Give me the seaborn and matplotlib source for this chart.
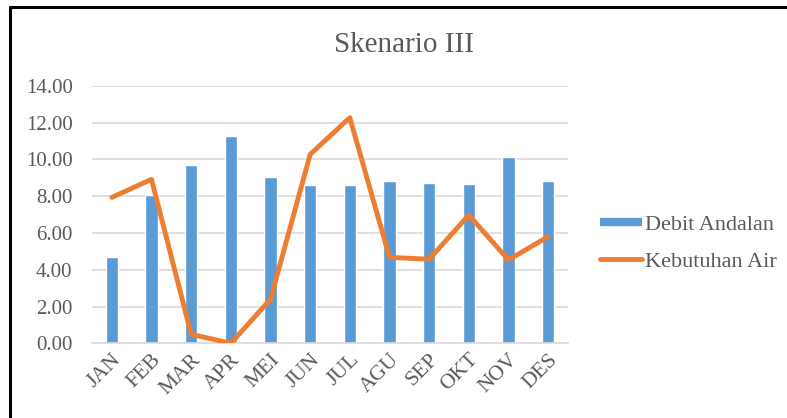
import numpy as np
import pandas as pd
import matplotlib
matplotlib.use("Agg")
import matplotlib.pyplot as plt
from matplotlib.lines import Line2D
import seaborn as sns

months = ["JAN", "FEB", "MAR", "APR", "MEI", "JUN", "JUL", "AGU", "SEP", "OKT", "NOV", "DES"]
debit_andalan = [4.71, 8.06, 9.69, 11.27, 9.02, 8.59, 8.59, 8.80, 8.73, 8.66, 10.14, 8.80]
kebutuhan_air = [7.93, 8.91, 0.49, 0.00, 2.39, 10.27, 12.26, 4.67, 4.57, 6.97, 4.53, 5.80]
yticks = [0, 2, 4, 6, 8, 10, 12, 14]

df = pd.DataFrame({"Bulan": months, "Debit Andalan": debit_andalan, "Kebutuhan Air": kebutuhan_air})

sns.set_theme(style="white")
plt.rcParams["font.family"] = ["Liberation Serif", "DejaVu Serif"]

BLUE = "#5B9BD5"
ORANGE = "#ED7D31"
GREY = "#595959"

fig = plt.figure(figsize=(7.87, 4.18), dpi=100)
ax = fig.add_axes([92 / 787, 1 - 343.3 / 418, (568 - 92) / 787, (343.3 - 85.7) / 418])

sns.barplot(data=df, x="Bulan", y="Debit Andalan", color=BLUE, saturation=1, width=0.31,
            errorbar=None, ax=ax, zorder=2)
sns.pointplot(data=df, x="Bulan", y="Kebutuhan Air", color=ORANGE, markers="", linewidth=3.5,
              errorbar=None, ax=ax, zorder=3)
for ln in ax.lines:
    ln.set_solid_joinstyle("round")
    ln.set_solid_capstyle("round")

ax.set_ylim(0, 14)
ax.set_xlim(-0.5, 11.5)
ax.set_yticks(yticks)
ax.set_yticklabels([f"{v:.2f}" for v in yticks], fontsize=15, color=GREY)
ax.set_xticks(range(len(months)))
ax.set_xticklabels(months, fontsize=15.5, color=GREY, rotation=45, ha="right", rotation_mode="anchor")
ax.tick_params(axis="y", length=0, pad=14)
ax.tick_params(axis="x", length=0, pad=5)
ax.yaxis.grid(True, color="#D9D9D9", linewidth=1.2, zorder=0)
ax.set_axisbelow(True)
for s in ["top", "right", "left"]:
    ax.spines[s].set_visible(False)
ax.spines["bottom"].set_color("#D9D9D9")
ax.spines["bottom"].set_linewidth(1.2)
ax.set_xlabel("")
ax.set_ylabel("")

fig.text(404 / 787, 1 - 45 / 418, "Skenario III", fontsize=21, color=GREY, ha="center", va="center")

handles = [
    Line2D([0], [0], color=BLUE, linewidth=6, solid_capstyle="butt"),
    Line2D([0], [0], color=ORANGE, linewidth=3.5, solid_capstyle="round"),
]
fig.legend(handles, ["Debit Andalan", "Kebutuhan Air"], loc="center left",
           bbox_to_anchor=(600 / 787, 1 - 243 / 418), frameon=False, fontsize=16,
           borderaxespad=0, borderpad=0,
           handlelength=1.9, handletextpad=0.12, labelspacing=0.75, labelcolor=GREY)

# outer frame (left and top edges visible)
fig.add_artist(Line2D([10 / 787, 10 / 787], [-0.05, 1 - 7 / 418], transform=fig.transFigure, color="black", linewidth=2.2))
fig.add_artist(Line2D([10 / 787, 1.05], [1 - 7 / 418, 1 - 7 / 418], transform=fig.transFigure, color="black", linewidth=2.2))

fig.savefig("out.png", dpi=100, facecolor="white")
